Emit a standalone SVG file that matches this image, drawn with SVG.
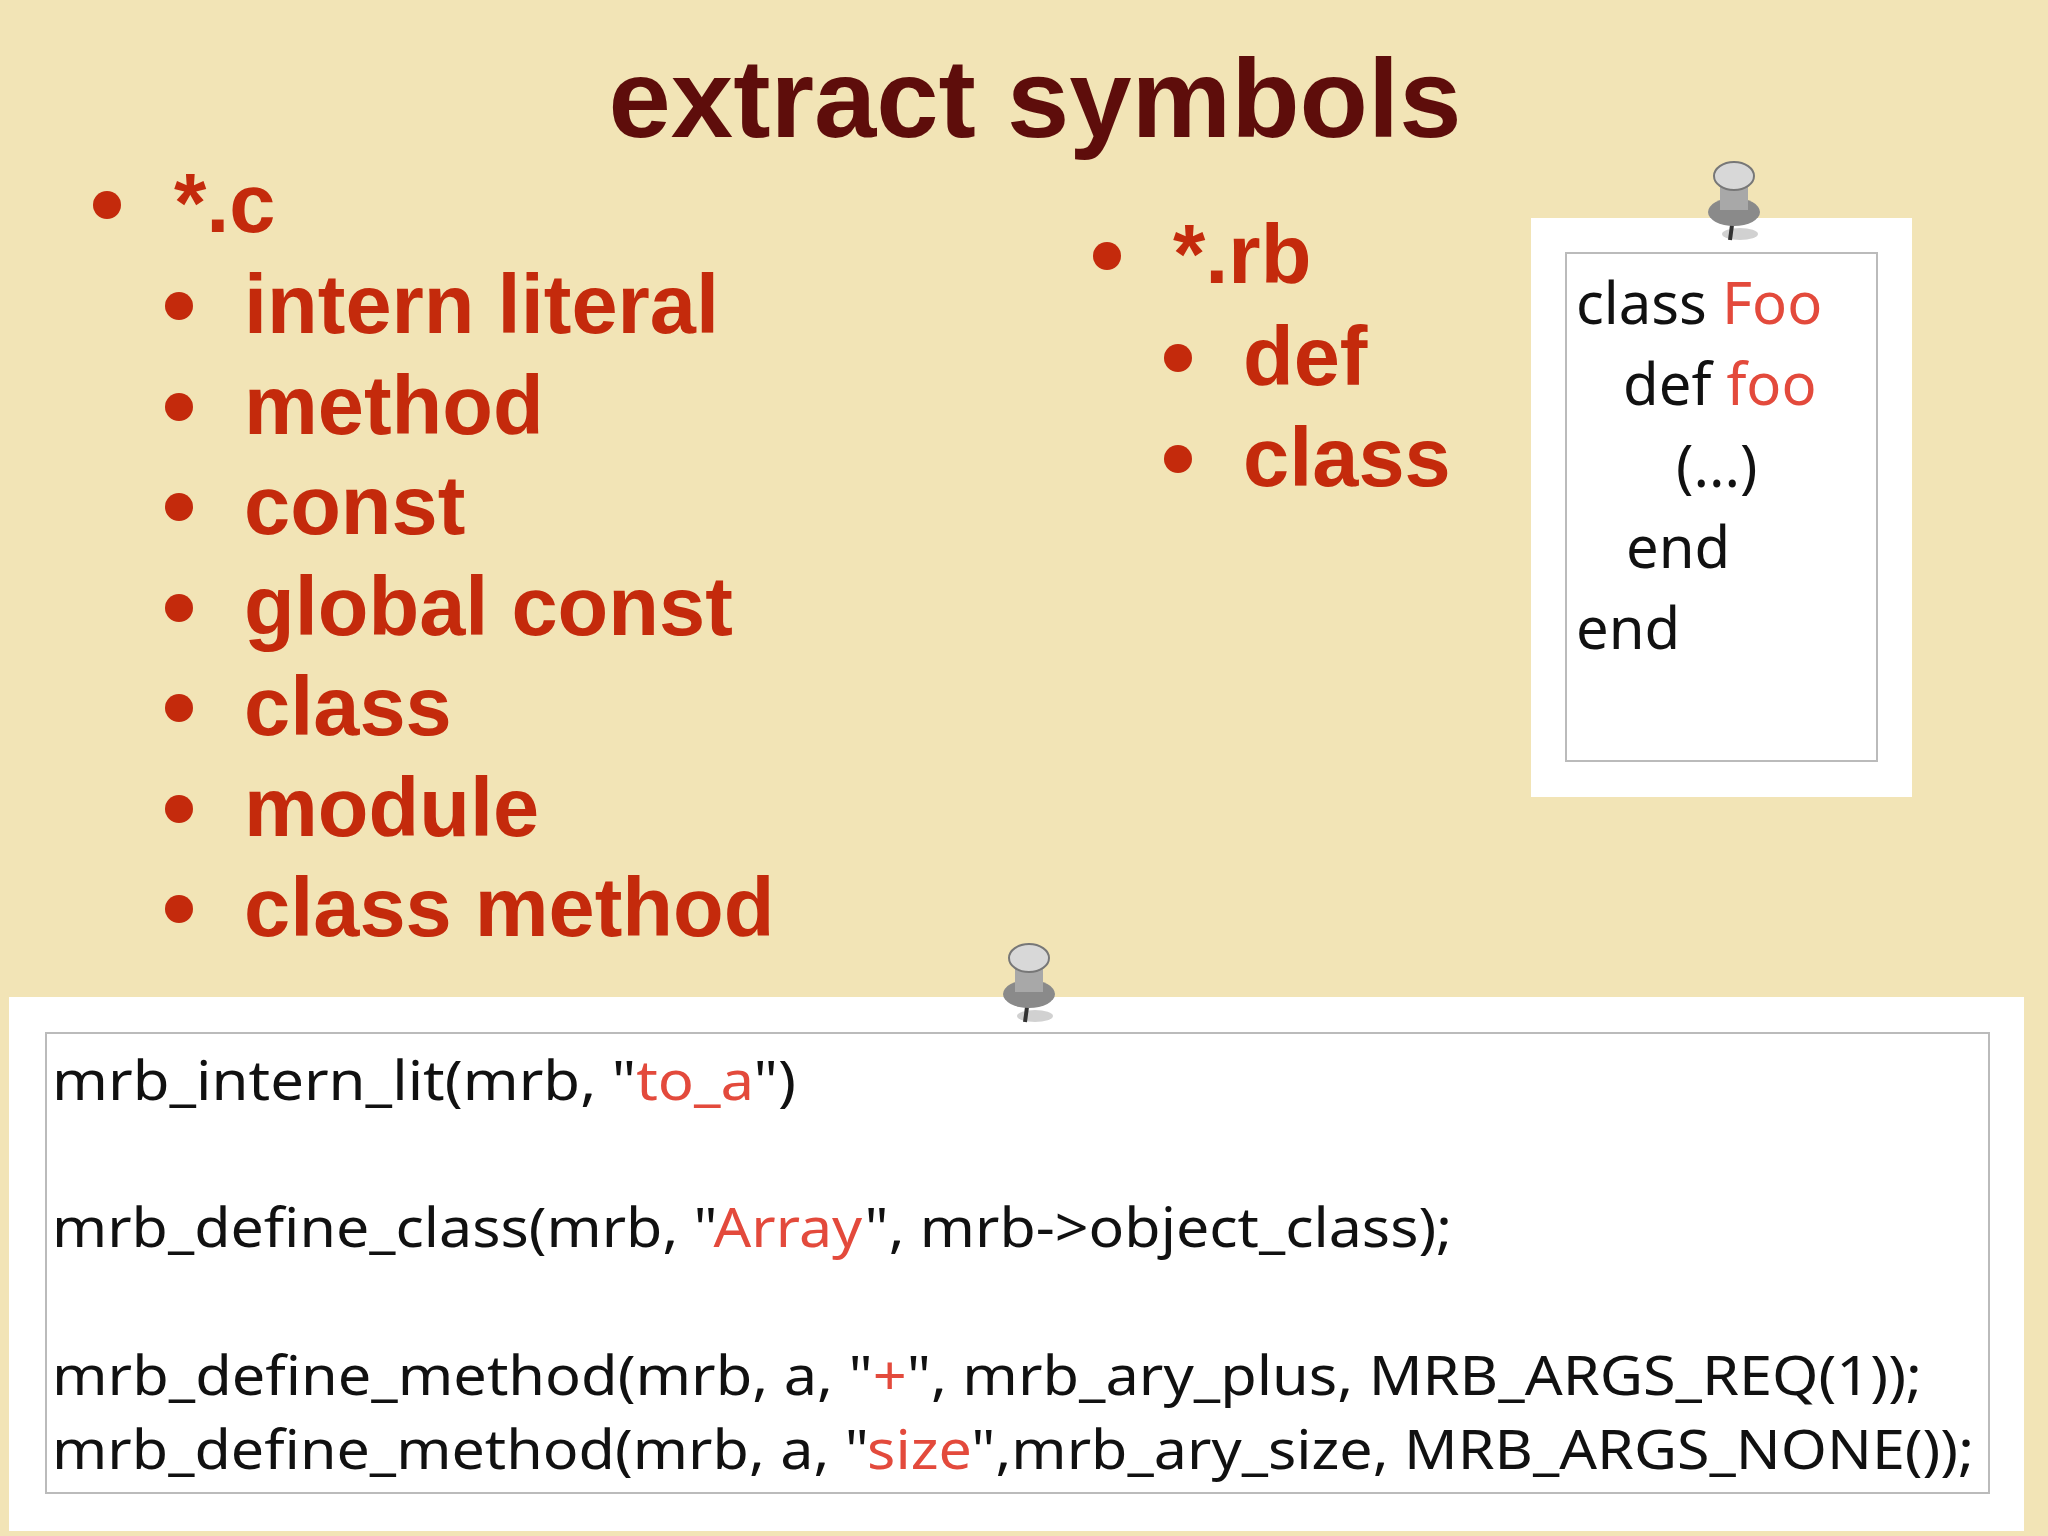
<svg xmlns="http://www.w3.org/2000/svg" width="2048" height="1536" viewBox="0 0 2048 1536">
<style>
.b{font-family:"Liberation Sans",Arial,sans-serif;font-weight:bold;font-size:83px;fill:#c42a0c}
.d{fill:#c42a0c}
.h{font-family:"Noto Sans","DejaVu Sans",sans-serif;font-size:58px;fill:#111}
.c{font-family:"Noto Sans","DejaVu Sans",sans-serif;font-size:54px;fill:#111}
.r{fill:#e34a3c}
</style>
<defs>
<g id="pin">
<ellipse cx="6" cy="44" rx="18" ry="6" fill="#000" opacity="0.18"/>
<line x1="0" y1="20" x2="-4" y2="50" stroke="#333" stroke-width="4"/>
<ellipse cx="0" cy="22" rx="26" ry="14" fill="#8a8a8a"/>
<rect x="-14" y="-14" width="28" height="34" fill="#a8a8a8"/>
<ellipse cx="0" cy="-14" rx="20" ry="14" fill="#d8d8d8" stroke="#777" stroke-width="2"/>
</g>
</defs>
<rect width="2048" height="1536" fill="#f2e4b6"/>
<text x="1035" y="137" text-anchor="middle" style="font-family:'Liberation Sans',Arial,sans-serif;font-weight:bold;font-size:112px;fill:#5e0d0b">extract symbols</text>
<g id="c-list">
<circle class="d" cx="107" cy="205" r="14"/><text class="b" x="174" y="232">*.c</text>
<circle class="d" cx="179" cy="306" r="14"/><text class="b" x="244" y="333">intern literal</text>
<circle class="d" cx="179" cy="407" r="14"/><text class="b" x="244" y="434">method</text>
<circle class="d" cx="179" cy="507" r="14"/><text class="b" x="244" y="534">const</text>
<circle class="d" cx="179" cy="608" r="14"/><text class="b" x="244" y="635">global const</text>
<circle class="d" cx="179" cy="708" r="14"/><text class="b" x="244" y="735">class</text>
<circle class="d" cx="179" cy="809" r="14"/><text class="b" x="244" y="836">module</text>
<circle class="d" cx="179" cy="909" r="14"/><text class="b" x="244" y="936">class method</text>
</g>
<g id="rb-list">
<circle class="d" cx="1107" cy="256" r="14"/><text class="b" x="1173" y="283">*.rb</text>
<circle class="d" cx="1178" cy="358" r="14"/><text class="b" x="1243" y="385">def</text>
<circle class="d" cx="1178" cy="459" r="14"/><text class="b" x="1243" y="486">class</text>
</g>
<g id="rb-card">
<rect x="1531" y="218" width="381" height="579" fill="#fff"/>
<rect x="1566" y="253" width="311" height="508" fill="none" stroke="#bbb" stroke-width="2"/>
<text class="h" x="1576" y="324">class <tspan class="r">Foo</tspan></text>
<text class="h" x="1623" y="405">def <tspan class="r">foo</tspan></text>
<text class="h" x="1676" y="487">(...)</text>
<text class="h" x="1626" y="568">end</text>
<text class="h" x="1576" y="649">end</text>
<use href="#pin" x="1734" y="190"/>
</g>
<g id="c-card">
<rect x="9" y="997" width="2015" height="534" fill="#fff"/>
<rect x="46" y="1033" width="1943" height="460" fill="none" stroke="#bbb" stroke-width="2"/>
<text class="c" x="52" y="1100" textLength="744" lengthAdjust="spacingAndGlyphs">mrb_intern_lit(mrb, "<tspan class="r">to_a</tspan>")</text>
<text class="c" x="52" y="1247" textLength="1400" lengthAdjust="spacingAndGlyphs">mrb_define_class(mrb, "<tspan class="r">Array</tspan>", mrb-&gt;object_class);</text>
<text class="c" x="52" y="1395" textLength="1870" lengthAdjust="spacingAndGlyphs">mrb_define_method(mrb, a, "<tspan class="r">+</tspan>", mrb_ary_plus, MRB_ARGS_REQ(1));</text>
<text class="c" x="52" y="1469" textLength="1922" lengthAdjust="spacingAndGlyphs">mrb_define_method(mrb, a, "<tspan class="r">size</tspan>",mrb_ary_size, MRB_ARGS_NONE());</text>
<use href="#pin" x="1029" y="972"/>
</g>
</svg>
